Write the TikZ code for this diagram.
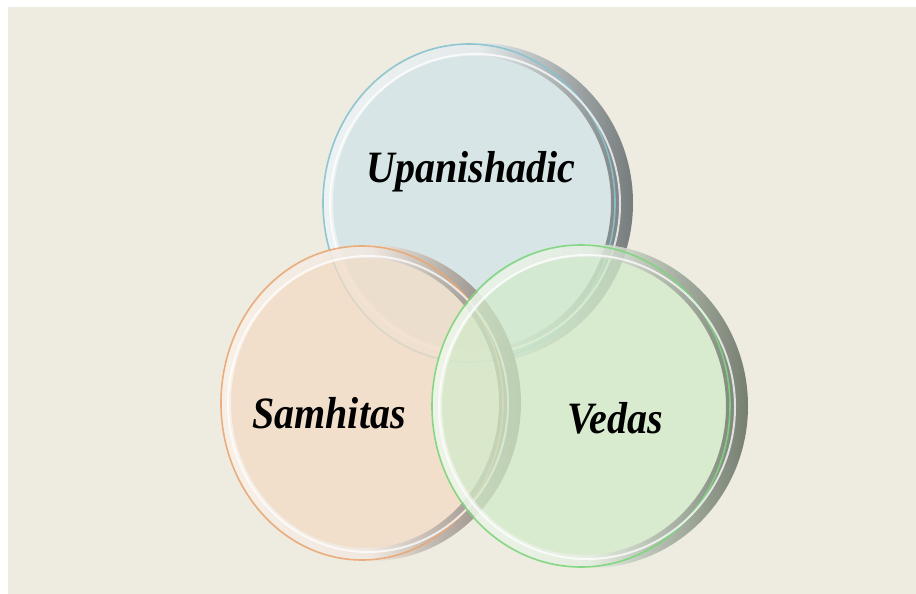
\documentclass[tikz,border=0pt]{standalone}
\usepackage{fontspec}
\usepackage{graphicx}
\setmainfont{Liberation Serif}
\definecolor{bgc}{HTML}{EEEBE1}
\definecolor{bluef}{RGB}{209,228,232}
\definecolor{orangef}{RGB}{243,220,197}
\definecolor{greenf}{RGB}{210,235,202}
\definecolor{bluel}{HTML}{86C3CF}
\definecolor{orangel}{HTML}{E9A774}
\definecolor{greenl}{HTML}{7CD67C}
\tikzset{
  lbl/.style={font=\fontsize{40}{48}\selectfont\bfseries\itshape, text=black, inner sep=0pt},
}
\newcommand{\glassdisc}[6]{%
  % #1 cx, #2 cy, #3 rx, #4 ry, #5 fill colour, #6 line colour
  \fill[#5, fill opacity=0.75] (#1,#2) ellipse [x radius=#3, y radius=#4];
  \shade[even odd rule, left color=white, right color=black!85, middle color=white!88!gray, opacity=0.55]
    (#1,#2) ellipse [x radius=#3, y radius=#4]
    (#1-6,#2) ellipse [x radius=#3-16, y radius=#4-13];
  \draw[#6, line width=1.6pt, opacity=0.9] (#1-9,#2) ellipse [x radius=#3-9, y radius=#4-1];
  \draw[white, line width=2pt, opacity=0.75] (#1-3,#2+1) ellipse [x radius=#3-10, y radius=#4-10];
}
\begin{document}
\begin{tikzpicture}[x=1pt,y=-1pt]
\useasboundingbox (0,0) rectangle (916,594);
\fill[white] (0,0) rectangle (916,594);
\fill[bgc] (8,7) rectangle (916,594);
\glassdisc{478}{203}{155}{160}{bluef}{bluel}
\glassdisc{371}{403}{150}{158}{orangef}{orangel}
\glassdisc{590}{406}{158}{162}{greenf}{greenl}
\node[lbl] (up) at (471,172) {\scalebox{1}[1.12]{Upanishadic}};
\node[lbl] (sa) at (329,413) {\scalebox{1}[1.12]{Samhitas}};
\node[lbl] (ve) at (615,418) {\scalebox{1}[1.12]{Vedas}};
\end{tikzpicture}
\end{document}
